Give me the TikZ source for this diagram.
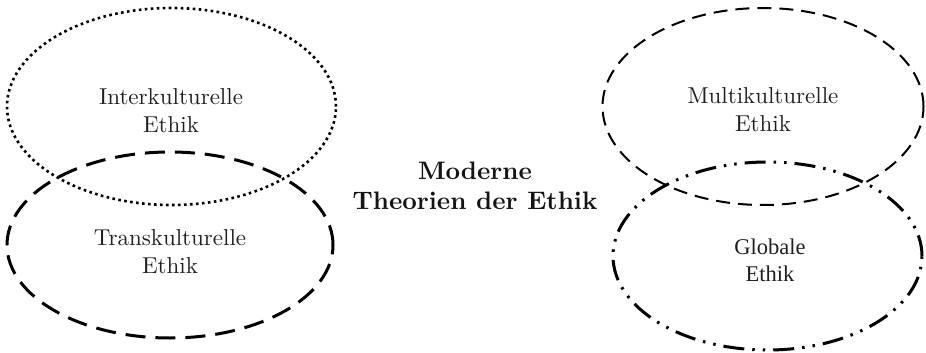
\documentclass[tikz,border=0pt]{standalone}
\usepackage{fontspec}
\setmainfont{lmroman10-regular.otf}[BoldFont=lmroman10-bold.otf]
\newfontfamily\timesfont{Liberation Serif}
\usetikzlibrary{shapes.geometric}
\begin{document}
\begin{tikzpicture}[x=1pt,y=-1pt,
  ell/.style={ellipse, draw, inner sep=0pt, outer sep=0pt},
  dotline/.style={line width=2.6pt, dash pattern=on 2.6pt off 3.4pt},
  longdash/.style={line width=3pt, dash pattern=on 20pt off 10pt},
  thindash/.style={line width=2pt, dash pattern=on 14pt off 8pt},
  dashdotdot/.style={line width=3pt, dash pattern=on 21pt off 8pt on 2.5pt off 8pt on 2.5pt off 8pt},
  lbl/.style={align=center, font=\fontsize{23}{28}\selectfont, text=black!88, inner sep=0pt},
  tlbl/.style={align=center, font=\timesfont\fontsize{22.5}{27}\selectfont, text=black!88, inner sep=0pt},
  title/.style={align=center, font=\bfseries\fontsize{25.3}{30}\selectfont, text=black!92, inner sep=0pt}
]
\useasboundingbox (0,0) rectangle (926,353);
\node[ell, dotline, minimum width=329pt, minimum height=197pt] (inter) at (171.5,106.5) {};
\node[ell, longdash, minimum width=326pt, minimum height=186pt] (trans) at (170,245) {};
\node[ell, thindash, minimum width=321pt, minimum height=197pt] (multi) at (763,106.5) {};
\node[ell, dashdotdot, minimum width=309pt, minimum height=188pt] (glob) at (767.5,256) {};
\node[lbl] (tinter) at (171,111) {Interkulturelle\\Ethik};
\node[lbl] (ttrans) at (170,252) {Transkulturelle\\Ethik};
\node[lbl] (tmulti) at (763,110) {Multikulturelle\\Ethik};
\node[tlbl] (tglob) at (770,260) {Globale\\Ethik};
\node[title] (tmain) at (475,186) {Moderne\\Theorien der Ethik};
\end{tikzpicture}
\end{document}
